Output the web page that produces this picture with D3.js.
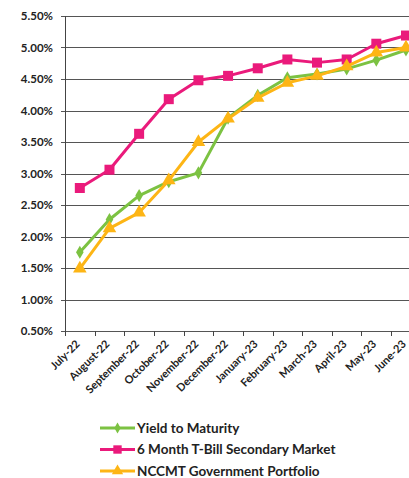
<!DOCTYPE html>
<html>
<head>
<meta charset="utf-8">
<script src="https://cdn.jsdelivr.net/npm/d3@7"></script>
<style>
  body { margin: 0; background: #fff; }
  svg { display: block; }
  text { font-family: Lato, "Open Sans", sans-serif; font-weight: bold; fill: #222; }
</style>
</head>
<body>
<svg width="409" height="478"></svg>
<script>
const months = ["July-22", "August-22", "September-22", "October-22", "November-22", "December-22",
  "January-23", "February-23", "March-23", "April-23", "May-23", "June-23"];
const yieldToMaturity = [1.75, 2.27, 2.65, 2.87, 3.01, 3.88, 4.24, 4.52, 4.58, 4.66, 4.80, 4.96];
const tBill = [2.77, 3.06, 3.63, 4.18, 4.48, 4.55, 4.67, 4.81, 4.76, 4.81, 5.06, 5.19];
const nccmt = [1.49, 2.13, 2.38, 2.89, 3.50, 3.87, 4.20, 4.44, 4.55, 4.70, 4.92, 5.00];
const yTicks = [0.5, 1.0, 1.5, 2.0, 2.5, 3.0, 3.5, 4.0, 4.5, 5.0, 5.5];

const series = [
  { name: "Yield to Maturity", values: yieldToMaturity, color: "#7cc242", marker: d3.symbolDiamond, size: 50 },
  { name: "6 Month T-Bill Secondary Market", values: tBill, color: "#ea1a7b", marker: d3.symbolSquare, size: 100 },
  { name: "NCCMT Government Portfolio", values: nccmt, color: "#fdb515", marker: d3.symbolTriangle, size: 80 }
];

const svg = d3.select("svg");
const plotLeft = 65, plotTop = 16, plotBottom = 331;

const x = d3.scaleBand().domain(months).range([plotLeft, plotLeft + 12 * 29.65]);
const y = d3.scaleLinear().domain([0.5, 5.5]).range([plotBottom, plotTop]);
const cx = d => x(d) + x.bandwidth() / 2;

// gridlines
svg.append("g")
  .selectAll("line")
  .data(yTicks)
  .join("line")
  .attr("x1", plotLeft - 4)
  .attr("x2", 409)
  .attr("y1", d => Math.round(y(d)) + 0.5)
  .attr("y2", d => Math.round(y(d)) + 0.5)
  .attr("stroke", "#555")
  .attr("stroke-width", 1);

// y axis
svg.append("line")
  .attr("x1", plotLeft + 0.5).attr("x2", plotLeft + 0.5)
  .attr("y1", plotTop).attr("y2", plotBottom + 0.5)
  .attr("stroke", "#444");

svg.append("g")
  .selectAll("text")
  .data(yTicks)
  .join("text")
  .attr("x", plotLeft - 12)
  .attr("y", d => y(d))
  .attr("dy", "0.35em")
  .attr("text-anchor", "end")
  .attr("font-size", 11.5)
  .text(d => d3.format(".2f")(d) + "%");

// x ticks at category edges
svg.append("g")
  .selectAll("line")
  .data(months)
  .join("line")
  .attr("x1", d => Math.round(x(d)) + 0.5)
  .attr("x2", d => Math.round(x(d)) + 0.5)
  .attr("y1", plotBottom)
  .attr("y2", plotBottom + 5)
  .attr("stroke", "#444");

svg.append("g")
  .selectAll("text")
  .data(months)
  .join("text")
  .attr("transform", d => `translate(${cx(d) - 2},${plotBottom + 11}) rotate(-45)`)
  .attr("text-anchor", "end")
  .attr("dy", "0.35em")
  .attr("font-size", 11)
  .text(d => d);

// lines and markers
const line = d3.line().x((v, i) => cx(months[i])).y(v => y(v));

series.forEach(s => {
  svg.append("path")
    .datum(s.values)
    .attr("d", line)
    .attr("fill", "none")
    .attr("stroke", s.color)
    .attr("stroke-width", 3)
    .attr("stroke-linejoin", "round");

  svg.append("g")
    .selectAll("path")
    .data(s.values)
    .join("path")
    .attr("transform", (v, i) => `translate(${cx(months[i])},${y(v)})`)
    .attr("d", d3.symbol(s.marker, s.size))
    .attr("fill", s.color);
});

// legend
const legend = svg.append("g")
  .selectAll("g")
  .data(series)
  .join("g")
  .attr("transform", (s, i) => `translate(100,${428 + i * 21.5})`);

legend.append("line")
  .attr("x1", 0).attr("x2", 35)
  .attr("stroke", s => s.color)
  .attr("stroke-width", 3);

legend.append("path")
  .attr("transform", "translate(17.5,0)")
  .attr("d", s => d3.symbol(s.marker, s.size * 0.7)())
  .attr("fill", s => s.color);

legend.append("text")
  .attr("x", 37)
  .attr("dy", "0.35em")
  .attr("font-size", 13.5)
  .text(s => s.name);
</script>
</body>
</html>
